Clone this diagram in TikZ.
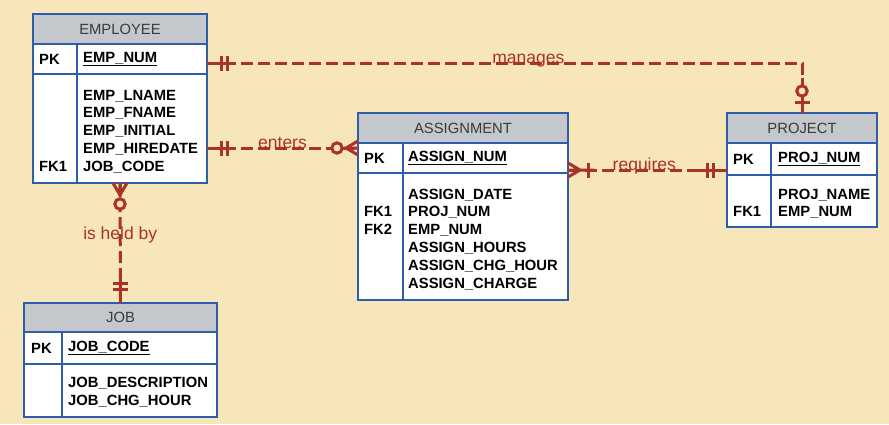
\documentclass[tikz,border=0pt]{standalone}
\usepackage{fontspec}
\setmainfont{Liberation Sans}
\usetikzlibrary{positioning}

\definecolor{bgbeige}{HTML}{F7E6B9}
\definecolor{boxblue}{HTML}{2F5DAE}
\definecolor{titlegray}{HTML}{C4C7CB}
\definecolor{titletext}{HTML}{3A3A3A}
\definecolor{relred}{HTML}{AA3328}

\begin{document}
\begin{tikzpicture}[
			x=1pt, y=-1pt,
			erow/.style={draw=boxblue, line width=2pt, fill=white, inner sep=0pt, outer sep=0pt},
			etitle/.style={erow, fill=titlegray, text=titletext, font=\fontsize{14.8}{17.8}\selectfont},
			divider/.style={draw=boxblue, line width=2pt},
			keycol/.style={inner sep=0pt, align=left, font=\bfseries\fontsize{14.8}{17.8}\selectfont},
			attrlist/.style={inner sep=0pt, align=left, font=\bfseries\fontsize{14.8}{17.8}\selectfont},
			relline/.style={draw=relred, line width=3pt, dash pattern=on 12pt off 5pt},
			relsolid/.style={draw=relred, line width=3pt},
			rellabel/.style={text=relred, font=\fontsize{17.5}{20}\selectfont, inner sep=0pt},
			% cardinality ends, drawn from the entity outwards along +x
			pics/mandone/.style={code={
				\draw[relsolid] (0,0) -- (28,0);
				\draw[relsolid] (14,-7.5) -- (14,7.5) (20,-7.5) -- (20,7.5);
			}},
			pics/zeroone/.style={code={
				\draw[relsolid] (0,0) -- (35,0);
				\draw[relsolid] (11,-7.5) -- (11,7.5);
				\draw[relsolid, fill=bgbeige] (22,0) circle[radius=5.2];
			}},
			pics/zeromany/.style={code={
				\draw[relsolid] (0,-7) -- (12,0) -- (0,7) (0,0) -- (14,0);
				\draw[relsolid, fill=bgbeige] (21,0) circle[radius=5.2];
			}},
			pics/onemany/.style={code={
				\draw[relsolid] (0,-7) -- (12,0) -- (0,7) (0,0) -- (26,0);
				\draw[relsolid] (20,-7.5) -- (20,7.5);
			}}
			]
			\fill[bgbeige] (0,0) rectangle (889,424);

			% EMPLOYEE
			\node[etitle, minimum width=174pt, minimum height=30pt, anchor=north west] (emp) at (33,14) {EMPLOYEE};
			\node[erow, minimum width=174pt, minimum height=30pt, below=0pt of emp] (emp-pk) {};
			\node[erow, minimum width=174pt, minimum height=109pt, below=0pt of emp-pk] (emp-attr) {};
			\draw[divider] ([xshift=44pt]emp-pk.north west) -- ([xshift=44pt]emp-attr.south west);
			\node[keycol, anchor=west] (emp-pkkey) at ([xshift=6pt]emp-pk.west) {PK};
			\node[attrlist, anchor=west] (emp-pkname) at ([xshift=50pt]emp-pk.west) {\underline{EMP\_NUM}};
			% base of a multi-line node is its last line
			\node[keycol, anchor=base west] (emp-fk) at ([xshift=6pt,yshift=-97.2pt]emp-attr.north west) {FK1};
			\node[attrlist, anchor=base west] (emp-list) at ([xshift=50pt,yshift=-97.2pt]emp-attr.north west)
				{EMP\_LNAME\\EMP\_FNAME\\EMP\_INITIAL\\EMP\_HIREDATE\\JOB\_CODE};

			% ASSIGNMENT
			\node[etitle, minimum width=210pt, minimum height=30pt, anchor=north west] (assign) at (358,113) {ASSIGNMENT};
			\node[erow, minimum width=210pt, minimum height=30pt, below=0pt of assign] (assign-pk) {};
			\node[erow, minimum width=210pt, minimum height=127pt, below=0pt of assign-pk] (assign-attr) {};
			\draw[divider] ([xshift=45pt]assign-pk.north west) -- ([xshift=45pt]assign-attr.south west);
			\node[keycol, anchor=west] (assign-pkkey) at ([xshift=6pt]assign-pk.west) {PK};
			\node[attrlist, anchor=west] (assign-pkname) at ([xshift=50pt]assign-pk.west) {\underline{ASSIGN\_NUM}};
			\node[keycol, anchor=base west] (assign-fk) at ([xshift=6pt,yshift=-61.6pt]assign-attr.north west) {FK1\\FK2};
			\node[attrlist, anchor=base west] (assign-list) at ([xshift=50pt,yshift=-115pt]assign-attr.north west)
				{ASSIGN\_DATE\\PROJ\_NUM\\EMP\_NUM\\ASSIGN\_HOURS\\ASSIGN\_CHG\_HOUR\\ASSIGN\_CHARGE};

			% PROJECT
			\node[etitle, minimum width=150pt, minimum height=30pt, anchor=north west] (proj) at (727,113) {PROJECT};
			\node[erow, minimum width=150pt, minimum height=32pt, below=0pt of proj] (proj-pk) {};
			\node[erow, minimum width=150pt, minimum height=52pt, below=0pt of proj-pk] (proj-attr) {};
			\draw[divider] ([xshift=44pt]proj-pk.north west) -- ([xshift=44pt]proj-attr.south west);
			\node[keycol, anchor=west] (proj-pkkey) at ([xshift=6pt]proj-pk.west) {PK};
			\node[attrlist, anchor=west] (proj-pkname) at ([xshift=51pt]proj-pk.west) {\underline{PROJ\_NUM}};
			\node[keycol, anchor=base west] (proj-fk) at ([xshift=6pt,yshift=-41.8pt]proj-attr.north west) {FK1};
			\node[attrlist, anchor=base west] (proj-list) at ([xshift=51pt,yshift=-41.8pt]proj-attr.north west)
				{PROJ\_NAME\\EMP\_NUM};

			% JOB
			\node[etitle, minimum width=193pt, minimum height=29pt, anchor=north west] (job) at (24,303) {JOB};
			\node[erow, minimum width=193pt, minimum height=32pt, below=0pt of job] (job-pk) {};
			\node[erow, minimum width=193pt, minimum height=53pt, below=0pt of job-pk] (job-attr) {};
			\draw[divider] ([xshift=38pt]job-pk.north west) -- ([xshift=38pt]job-attr.south west);
			\node[keycol, anchor=west] (job-pkkey) at ([xshift=7pt]job-pk.west) {PK};
			\node[attrlist, anchor=west] (job-pkname) at ([xshift=44pt]job-pk.west) {\underline{JOB\_CODE}};
			\node[attrlist, anchor=base west] (job-list) at ([xshift=44pt,yshift=-41.3pt]job-attr.north west)
				{JOB\_DESCRIPTION\\JOB\_CHG\_HOUR};

			% relationships
			\coordinate (manages-y) at (0,63);
			\coordinate (enters-y) at (0,148);
			\coordinate (requires-y) at (0,170);

			\draw[relline] (emp-pk.east |- manages-y) -| (proj.north)
				node[rellabel, pos=0.27, anchor=base] {manages};
			\draw[relline] (emp-attr.east |- enters-y) -- (assign-pk.west |- enters-y)
				node[rellabel, midway, anchor=base] {enters};
			\draw[relline] (assign-pk.east |- requires-y) -- (proj-pk.west |- requires-y)
				node[rellabel, pos=0.48, anchor=base] {requires};
			\draw[relline] (emp-attr.south) -- (job.north)
				node[rellabel, pos=0.43] {is held by};

			\path (emp-pk.east |- manages-y) pic {mandone};
			\path (proj.north) pic[rotate=90] {zeroone};
			\path (emp-attr.east |- enters-y) pic {mandone};
			\path (assign-pk.west |- enters-y) pic[rotate=180] {zeromany};
			\path (assign-pk.east |- requires-y) pic {onemany};
			\path (proj-pk.west |- requires-y) pic[rotate=180] {mandone};
			\path (emp-attr.south) pic[rotate=-90] {zeromany};
			\path (job.north) pic[rotate=90] {mandone};
		\end{tikzpicture}
\end{document}
